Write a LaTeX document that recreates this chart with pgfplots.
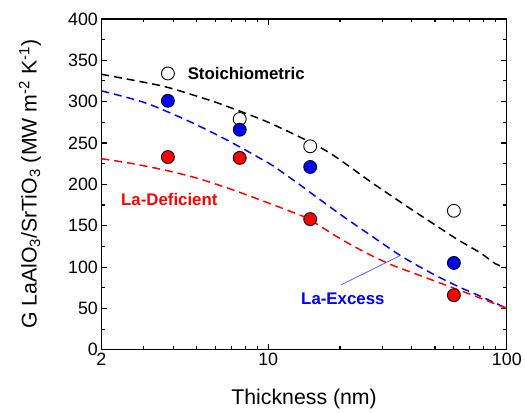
\documentclass[border=0pt]{standalone}
\usepackage{fontspec}
\setmainfont{Liberation Sans}
\usepackage{pgfplots}
\pgfplotsset{compat=1.18}

\pgfplotstableread{
x y
2 333
2.7 326
3.7 318
5.1 306
6.2 298
7.6 288.5
10 275
15 251
19 234
26.6 204
31.7 189
39.7 170
49.7 151.5
62 133.5
77.6 117
89.6 104
100 99
}\fitstoich

\pgfplotstableread{
x y
2 313
3.02 299
4.36 280
5.8 263
7.3 248
8.8 235
10.4 223
11.8 212
13.8 198
15.7 186
20.9 160
27 138
35.8 114
46.6 95
62 77
80 63
100 50
}\fitexcess

\pgfplotstableread{
x y
2 231
2.7 225
3.72 217
5.1 207
7 194
9.7 179
13 165
15 157
19.6 136
25.4 118
32.7 103
42.2 91
54.5 79
70.4 67
100 50
}\fitdeficient

\begin{document}
\begin{tikzpicture}
\begin{axis}[
  width=408bp, height=333bp, scale only axis,
  xmode=log, xmin=2, xmax=100, ymin=0, ymax=400,
  xtick={2,10,100}, xticklabels={2,10,100},
  minor xtick={3,4,5,6,7,8,9,20,30,40,50,60,70,80,90},
  ytick={0,50,...,400}, minor y tick num=1,
  tick align=inside, major tick length=6bp, minor tick length=3.5bp,
  axis line style={line width=1.3bp},
  every tick/.style={black, line width=1.1bp},
  /pgf/number format/assume math mode=true,
  tick label style={font=\fontsize{18}{18}\selectfont},
  label style={font=\fontsize{21.5}{21.5}\selectfont},
  xlabel={Thickness (nm)},
  ylabel={G LaAlO\textsubscript{3}/SrTiO\textsubscript{3} (MW m\textsuperscript{-2} K\textsuperscript{-1})},
  xlabel style={at={(axis description cs:0.5,-0.15)}, anchor=center},
  ylabel style={at={(axis description cs:-0.176,0.5)}, anchor=center},
  clip=false,
]
\addplot[black, smooth, line width=1.5bp, dash pattern=on 8bp off 5bp] table {\fitstoich};
\addplot[blue, smooth, line width=1.5bp, dash pattern=on 8bp off 5bp] table {\fitexcess};
\addplot[red, smooth, line width=1.5bp, dash pattern=on 8bp off 5bp] table {\fitdeficient};

\addplot[only marks, mark=*, mark size=6.5bp, mark options={draw=black, fill=white, line width=0.9bp}]
  coordinates {(3.8,334) (7.6,279) (15,246) (60,168)};
\addplot[only marks, mark=*, mark size=6.5bp, mark options={draw=black, fill=blue, line width=0.9bp}]
  coordinates {(3.8,301) (7.6,266) (15,221) (60,105)};
\addplot[only marks, mark=*, mark size=6.5bp, mark options={draw=black, fill=red, line width=0.9bp}]
  coordinates {(3.8,233) (7.6,232) (15,158) (60,66)};

\node[anchor=west, font=\fontsize{17}{17}\selectfont\bfseries] at (axis cs:4.45,334) {Stoichiometric};
\node[anchor=west, font=\fontsize{17}{17}\selectfont\bfseries, text=red] at (axis cs:2.34,182) {La-Deficient};
\node[anchor=west, font=\fontsize{17}{17}\selectfont\bfseries, text=blue] at (axis cs:13.3,62) {La-Excess};
\draw[blue!70, line width=0.7bp] (axis cs:20.2,78.5) -- (axis cs:35.8,114);
\end{axis}
\path ([shift={(-102bp,-59bp)}]current axis.south west) rectangle ([shift={(15bp,19bp)}]current axis.north east);
\end{tikzpicture}
\end{document}
